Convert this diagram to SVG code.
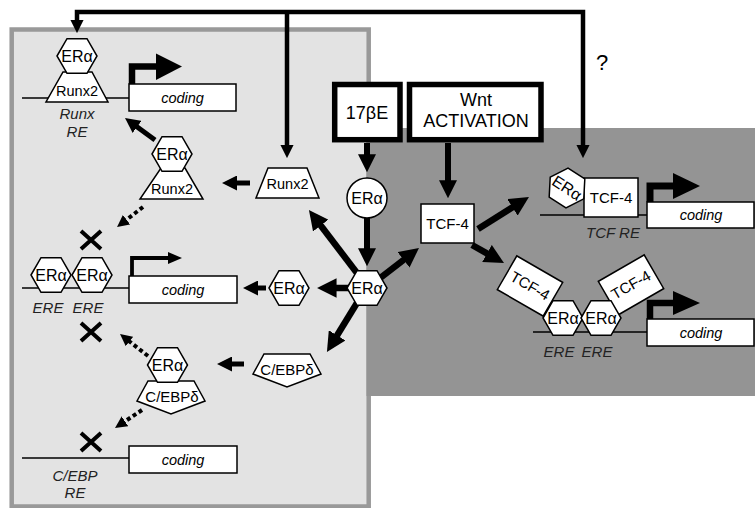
<svg xmlns="http://www.w3.org/2000/svg" width="755" height="508" viewBox="0 0 755 508">
<style>
text{font-family:"Liberation Sans",Arial,sans-serif;fill:#000;text-anchor:middle}
.lbl{font-size:15px}
.er{font-size:16px}
.it{font-size:15px;font-style:italic;fill:#222}
.cod{font-size:14.5px;font-style:italic}
.big{font-size:18px}
.sh{fill:#fff;stroke:#000;stroke-width:1.5}
.dna{stroke:#000;stroke-width:1.5;fill:none}
.c{stroke:#000;fill:none;marker-end:url(#ah)}
.w65{stroke-width:6.5}
.w6{stroke-width:6}
.w5{stroke-width:5}
.dot{stroke-width:4;stroke-dasharray:4 3}
.x{stroke:#000;stroke-width:4}
</style>
<defs>
<marker id="ah" viewBox="0 0 10 10" refX="1" refY="5" markerWidth="3" markerHeight="3" orient="auto-start-reverse" markerUnits="strokeWidth"><path d="M0,0 L10,5 L0,10 z" fill="#000" stroke="none"/></marker>
<polygon id="hex" points="-20,0 -10,-17.3 10,-17.3 20,0 10,17.3 -10,17.3" fill="#fff" stroke="#000" stroke-width="1.5"/>
<polygon id="pent" points="-23,0 23,0 34,20 0,33 -34,20" fill="#fff" stroke="#000" stroke-width="1.5"/>
</defs>

<g id="panels">
<rect x="11.7" y="29.5" width="357" height="477" fill="#e3e3e3" stroke="#999" stroke-width="4.5"/>
<rect x="366.5" y="128" width="389" height="268" fill="#949494"/>
</g>

<g id="connectors">
<path class="c" d="M583,146 L583,12 L77,12 L77,21" stroke-width="4.5" marker-start="url(#ah)"/>
<path class="c" d="M287,12 L287,146" stroke-width="4.5"/>
<path class="c w6" d="M367,143 L367,156"/>
<path class="c w6" d="M367,218 L367,250"/>
<path class="c w6" d="M448,143 L448,182"/>
<path class="c w65" d="M360,277 L319.6,224"/>
<path class="c w65" d="M375,282 L405.1,258.7"/>
<path class="c w65" d="M350,288 L334.6,288"/>
<path class="c w65" d="M360,298 L336.1,337"/>
<path class="c w65" d="M478,229 L514.1,206.3"/>
<path class="c w65" d="M472,245 L488.7,254.4"/>
<path class="c w5" d="M266,288 L256.5,288"/>
<path class="c w5" d="M250,183 L235.5,183"/>
<path class="c w5" d="M244,364 L230.5,364"/>
<path class="c w5" d="M155,140 L135.9,126"/>
<path class="c dot" d="M143,207 L125.6,220.4"/>
<path class="c dot" d="M148,356 L128.5,340.7"/>
<path class="c dot" d="M142,410 L124,422"/>
</g>

<g id="question"><text x="602" y="70" style="font-size:22px">?</text></g>

<g id="n-17bE">
<rect x="334.7" y="84.5" width="65.3" height="55.2" fill="#fff" stroke="#000" stroke-width="5.5"/>
<text class="big" x="367" y="119">17βE</text>
</g>
<g id="n-wnt">
<rect x="409.5" y="84.5" width="131.5" height="55.2" fill="#fff" stroke="#000" stroke-width="5.5"/>
<text class="big" x="476" y="106">Wnt</text>
<text class="big" x="476" y="127">ACTIVATION</text>
</g>
<g id="n-era-ligand">
<circle class="sh" cx="367" cy="198" r="20"/>
<text class="er" x="367" y="203.5">ERα</text>
</g>
<g id="n-era-central">
<use href="#hex" x="367" y="288"/>
<text class="er" x="367" y="293.5">ERα</text>
</g>
<g id="n-era-mid">
<use href="#hex" x="289" y="288"/>
<text class="er" x="289" y="293.5">ERα</text>
</g>
<g id="n-runx2-mid">
<polygon class="sh" points="268,168 307,168 319,198 256,198"/>
<text class="lbl" x="287.5" y="189" style="font-size:14.5px">Runx2</text>
</g>
<g id="n-cebp-mid">
<use href="#pent" x="287" y="354"/>
<text class="lbl" x="287" y="375">C/EBPδ</text>
</g>
<g id="n-tcf4">
<rect class="sh" x="421" y="204" width="53" height="39"/>
<text class="lbl" x="447.5" y="229">TCF-4</text>
</g>

<g id="complex-runx2">
<polygon class="sh" points="161,168 185,168 203,199 140,199"/>
<use href="#hex" x="172" y="154"/>
<text class="er" x="172" y="159.5">ERα</text>
<text class="lbl" x="172" y="194" style="font-size:14.5px">Runx2</text>
</g>
<g id="complex-cebp">
<use href="#pent" x="171" y="381"/>
<use href="#hex" x="167.5" y="365"/>
<text class="er" x="167.5" y="370.5">ERα</text>
<text class="lbl" x="172" y="402">C/EBPδ</text>
</g>

<g id="gene-runx-re">
<path class="dna" d="M22,98 L129,98"/>
<polygon class="sh" points="63,72 92,72 108,102 46,102"/>
<use href="#hex" x="77" y="56"/>
<text class="er" x="77" y="61.5">ERα</text>
<text class="lbl" x="77" y="96" style="font-size:14.5px">Runx2</text>
<rect class="sh" x="129" y="84" width="107" height="27"/>
<text class="cod" x="182.5" y="102.5">coding</text>
<path d="M132,84 L132,66.5 L158,66.5" stroke="#000" stroke-width="6.5" fill="none"/>
<polygon points="156,53.5 182,66.5 156,80"/>
<text class="it" x="77" y="119">Runx</text>
<text class="it" x="77" y="137">RE</text>
</g>

<g id="gene-ere">
<path class="dna" d="M22,288 L129,288"/>
<use href="#hex" x="51" y="275"/>
<use href="#hex" x="92" y="275"/>
<text class="er" x="51" y="280.5">ERα</text>
<text class="er" x="92" y="280.5">ERα</text>
<rect class="sh" x="129" y="276" width="108" height="27"/>
<text class="cod" x="183" y="294.5">coding</text>
<path d="M132,276 L132,258 L170,258" stroke="#000" stroke-width="3.8" fill="none"/>
<polygon points="168,252 182,258 168,264"/>
<text class="it" x="48" y="313">ERE</text>
<text class="it" x="88" y="313">ERE</text>
</g>

<g id="gene-cebp">
<path class="dna" d="M22,458 L129,458"/>
<rect class="sh" x="129" y="446" width="108" height="27"/>
<text class="cod" x="183" y="464.5">coding</text>
<text class="it" x="75" y="481">C/EBP</text>
<text class="it" x="75" y="498">RE</text>
</g>

<g id="blocks">
<path class="x" d="M81,231 L101,249 M101,231 L81,249"/>
<path class="x" d="M81,323 L101,341 M101,323 L81,341"/>
<path class="x" d="M81,433 L101,451 M101,433 L81,451"/>
</g>

<g id="gene-tcf-re">
<path class="dna" d="M540,215 L647,215"/>
<rect class="sh" x="584" y="178" width="54" height="39"/>
<text class="lbl" x="611" y="203">TCF-4</text>
<g transform="translate(567,188) rotate(33)">
<use href="#hex"/>
<text class="er" x="0" y="5.5">ERα</text>
</g>
<rect class="sh" x="647" y="202" width="107" height="26"/>
<text class="cod" x="701" y="220">coding</text>
<path d="M650,202 L650,186 L675,186" stroke="#000" stroke-width="7" fill="none"/>
<polygon points="673,173 700,186 673,199"/>
<text class="it" x="613" y="238">TCF RE</text>
</g>

<g id="gene-ere-right">
<path class="dna" d="M533,332 L647,332"/>
<g transform="translate(530,286) rotate(30)">
<rect class="sh" x="-26.5" y="-19.5" width="53" height="39"/>
<text class="lbl" x="0" y="5">TCF-4</text>
</g>
<g transform="translate(631,285) rotate(-30)">
<rect class="sh" x="-26.5" y="-19.5" width="53" height="39"/>
<text class="lbl" x="0" y="5">TCF-4</text>
</g>
<use href="#hex" x="563" y="318"/>
<use href="#hex" x="601" y="318"/>
<text class="er" x="563" y="323.5">ERα</text>
<text class="er" x="601" y="323.5">ERα</text>
<rect class="sh" x="647" y="319" width="107" height="27"/>
<text class="cod" x="701" y="337.5">coding</text>
<path d="M650,319 L650,303 L675,303" stroke="#000" stroke-width="6.5" fill="none"/>
<polygon points="673,291 700,303 673,315"/>
<text class="it" x="559" y="357">ERE</text>
<text class="it" x="597" y="357">ERE</text>
</g>
</svg>
